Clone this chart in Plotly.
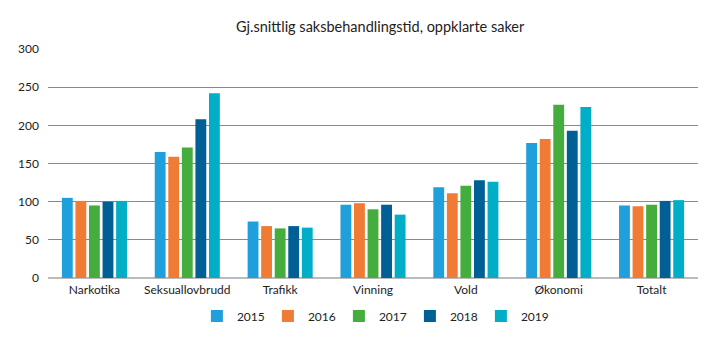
import plotly.graph_objects as go

categories = ["Narkotika", "Seksuallovbrudd", "Trafikk", "Vinning", "Vold", "Økonomi", "Totalt"]
years = ["2015", "2016", "2017", "2018", "2019"]
v2015 = [105, 165, 74, 96, 119, 177, 95]
v2016 = [101, 159, 68, 98, 111, 182, 94]
v2017 = [95, 171, 65, 90, 121, 227, 96]
v2018 = [100, 208, 68, 96, 128, 193, 101]
v2019 = [101, 242, 66, 83, 126, 224, 102]
y_ticks = [0, 50, 100, 150, 200, 250, 300]

series = [v2015, v2016, v2017, v2018, v2019]
colors = ["#1f9fdb", "#ef7b35", "#45ad3e", "#005f94", "#00aec8"]

fig = go.Figure()
for yr, vals, col in zip(years, series, colors):
    fig.add_trace(go.Bar(x=categories, y=vals, name=yr, marker_color=col,
                         marker_line_width=0))

fig.update_layout(
    width=720, height=341,
    margin=dict(l=48, r=22, t=49, b=63, autoexpand=False),
    paper_bgcolor="white", plot_bgcolor="white",
    font=dict(family="Lato, sans-serif", size=12, color="#222"),
    title=dict(text="Gj.snittlig saksbehandlingstid, oppklarte saker",
               x=0.528, xanchor="center", y=0.92, yanchor="middle",
               font=dict(size=14.5, color="#222")),
    barmode="group", bargap=0.27, bargroupgap=0.2,
    legend=dict(orientation="h", xref="container", yref="container",
                x=0.52, xanchor="center", y=0.073, yanchor="middle",
                font=dict(size=12), itemwidth=30, traceorder="normal",
                entrywidth=26, entrywidthmode="pixels"),
    xaxis=dict(showgrid=False, ticks="", showline=False, tickfont=dict(size=12),
               ticklabelstandoff=3),
    yaxis=dict(range=[0, 300], tickvals=y_ticks, showgrid=True, gridcolor="#8a8a8a",
               gridwidth=1, zeroline=True, zerolinecolor="#bbbbbb", zerolinewidth=2,
               ticks="", tickfont=dict(size=12), ticklabelstandoff=8),
)

fig.write_html("out.html")
